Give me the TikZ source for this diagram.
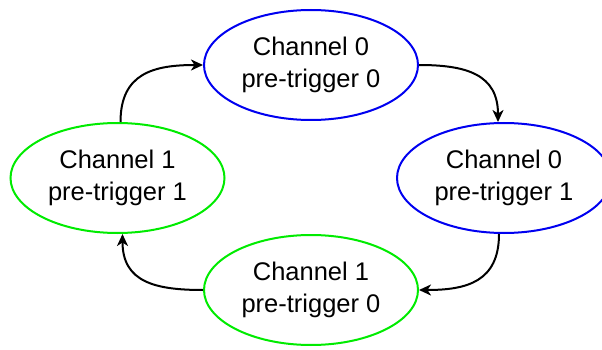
\documentclass[tikz,border=0pt]{standalone}
\usepackage{fontspec}
\setmainfont{Liberation Sans}
\usetikzlibrary{shapes.geometric,arrows.meta}
\definecolor{stblue}{RGB}{0,0,240}
\definecolor{stgreen}{RGB}{0,235,0}
\tikzset{
  state/.style={ellipse, draw, line width=2pt, minimum width=214pt, minimum height=110pt,
    inner sep=0pt, align=center, font=\fontsize{25.5}{32}\selectfont},
  ch0/.style={state, draw=stblue},
  ch1/.style={state, draw=stgreen},
  flow/.style={draw=black, line width=2pt, -{Stealth[length=12pt,width=11pt,inset=3.5pt]}, looseness=1.25}
}
\begin{document}
\begin{tikzpicture}[x=1pt,y=-1pt]
\useasboundingbox (0,0) rectangle (602,350);
\node[ch0] (top) at (311,65) {Channel 0\\pre-trigger 0};
\node[ch0] (right) at (504,178) {Channel 0\\pre-trigger 1};
\node[ch1] (bottom) at (311,290) {Channel 1\\pre-trigger 0};
\node[ch1] (left) at (117.5,178) {Channel 1\\pre-trigger 1};
\draw[flow] ([xshift=3pt]left.north) to[out=90,in=180] (top.west);
\draw[flow] (top.east) to[out=0,in=90] ([xshift=-6pt]right.north);
\draw[flow] ([xshift=-5pt]right.south) to[out=270,in=0] (bottom.east);
\draw[flow] (bottom.west) to[out=180,in=270] ([xshift=5pt]left.south);
\end{tikzpicture}
\end{document}
